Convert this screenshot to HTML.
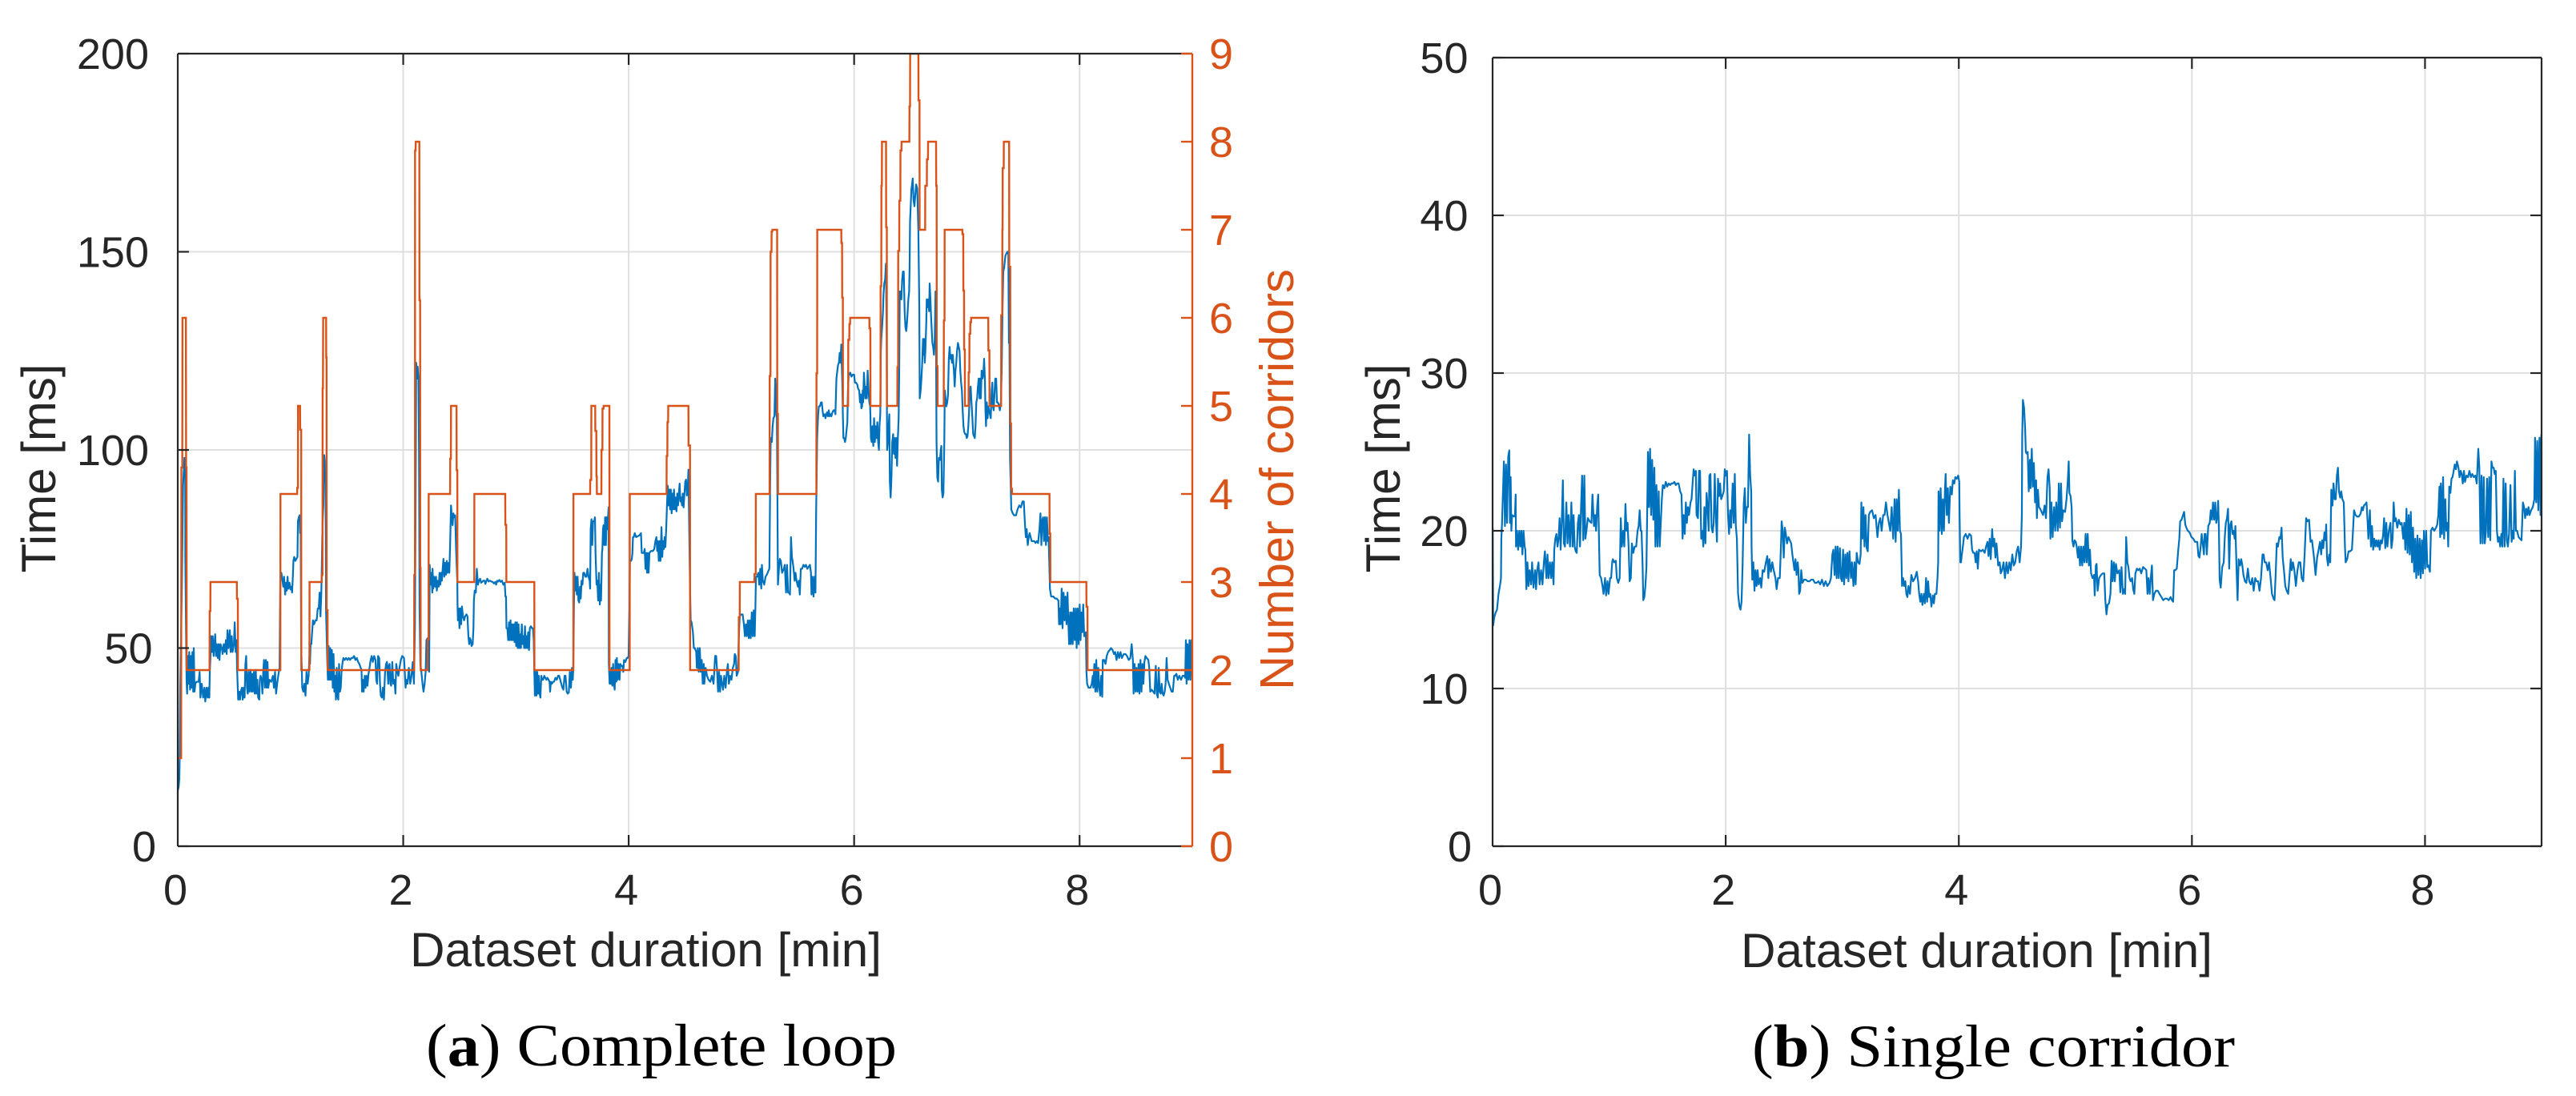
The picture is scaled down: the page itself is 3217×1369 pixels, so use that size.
<!DOCTYPE html>
<html lang="en">
<head>
<meta charset="utf-8">
<title>Processing time over dataset duration</title>
<style>
html,body{margin:0;padding:0;background:#fff;}
svg{display:block;position:absolute;left:0;top:0;}
text{font-family:"Liberation Sans",sans-serif;}
text.cap{font-family:"Liberation Serif",serif;}
</style>
</head>
<body>
<svg id="figure" xmlns="http://www.w3.org/2000/svg" width="3217" height="1369" viewBox="0 0 3217 1369"></svg>
<script>
const xTicks = [0, 2, 4, 6, 8];
const loopYTicks = [0, 50, 100, 150, 200];
const corridorTicks = [0, 1, 2, 3, 4, 5, 6, 7, 8, 9];
const singleYTicks = [0, 10, 20, 30, 40, 50];
const loopCorridors = [[0,1],[.03,1],[.032,4.3],[.04,4.3],[.042,6],[.072,6],[.074,4.3],[.078,4.3],[.079,2],[.282,2],[.283,2.67],[.289,2.67],[.29,3],[.524,3],[.525,2.81],[.533,2.81],[.534,2],[.91,2],[.911,4],[1.059,4],[1.06,4.07],[1.066,4.07],[1.067,5],[1.085,5],[1.086,4.73],[1.095,4.73],[1.096,2],[1.168,2],[1.169,3],[1.277,3],[1.278,3.08],[1.284,3.08],[1.285,5.2],[1.288,5.2],[1.29,6],[1.316,6],[1.317,5.55],[1.32,5.55],[1.321,2.68],[1.329,2.68],[1.33,2],[2.097,2],[2.098,3.08],[2.104,3.08],[2.105,7.9],[2.11,7.9],[2.111,8],[2.143,8],[2.144,6.2],[2.15,6.2],[2.151,3.16],[2.154,3.16],[2.155,2],[2.216,2],[2.217,2.35],[2.225,2.35],[2.226,4],[2.416,4],[2.417,4.4],[2.423,4.4],[2.424,5],[2.473,5],[2.474,4.27],[2.48,4.27],[2.481,3],[2.63,3],[2.631,4],[2.905,4],[2.906,3.65],[2.914,3.65],[2.915,3],[3.163,3],[3.164,2],[3.509,2],[3.51,4],[3.658,4],[3.659,4.16],[3.668,4.16],[3.669,5],[3.703,5],[3.704,4.715],[3.713,4.715],[3.714,4.2],[3.717,4.2],[3.718,4],[3.758,4],[3.759,4.5],[3.767,4.5],[3.768,4.97],[3.777,4.97],[3.778,5],[3.829,5],[3.83,2],[4.009,2],[4.01,4],[4.336,4],[4.337,4.43],[4.343,4.43],[4.344,4.815],[4.35,4.815],[4.351,5],[4.53,5],[4.531,4.55],[4.544,4.55],[4.545,2],[4.976,2],[4.977,2.6],[4.985,2.6],[4.986,3],[5.115,3],[5.116,3.09],[5.127,3.09],[5.128,4],[5.25,4],[5.251,5.34],[5.258,5.34],[5.259,6.75],[5.267,6.75],[5.268,6.98],[5.274,6.98],[5.275,7],[5.317,7],[5.318,4.91],[5.324,4.91],[5.325,4],[5.665,4],[5.666,5.37],[5.672,5.37],[5.673,7],[5.886,7],[5.887,6.85],[5.893,6.85],[5.894,6.23],[5.9,6.23],[5.901,5],[5.947,5],[5.948,5.75],[5.957,5.75],[5.958,5.93],[5.964,5.93],[5.965,6],[6.135,6],[6.136,5.88],[6.144,5.88],[6.145,5],[6.234,5],[6.235,6.36],[6.241,6.36],[6.242,7.5],[6.246,7.5],[6.247,8],[6.283,8],[6.284,7.03],[6.29,7.03],[6.291,5],[6.383,5],[6.384,5.44],[6.39,5.44],[6.391,6.76],[6.4,6.76],[6.401,7.33],[6.41,7.33],[6.411,7.9],[6.42,7.9],[6.421,8],[6.49,8],[6.491,8.4],[6.496,8.4],[6.497,9],[6.57,9],[6.571,8.47],[6.58,8.47],[6.581,7],[6.63,7],[6.631,7.5],[6.645,7.5],[6.646,7.8],[6.655,7.8],[6.656,8],[6.727,8],[6.728,7.5],[6.732,7.5],[6.733,5.45],[6.74,5.45],[6.741,5],[6.795,5],[6.796,5.97],[6.802,5.97],[6.803,7],[6.96,7],[6.961,6.95],[6.968,6.95],[6.969,6.31],[6.975,6.31],[6.976,5.64],[6.982,5.64],[6.983,5],[7.015,5],[7.016,5.38],[7.022,5.38],[7.023,5.82],[7.03,5.82],[7.031,5.95],[7.037,5.95],[7.038,6],[7.19,6],[7.191,5.63],[7.2,5.63],[7.201,5],[7.304,5],[7.305,6.03],[7.314,6.03],[7.315,7],[7.317,7],[7.318,7.7],[7.327,7.7],[7.328,8],[7.375,8],[7.376,6.58],[7.385,6.58],[7.386,4.8],[7.392,4.8],[7.393,4.06],[7.4,4.06],[7.401,4],[7.733,4],[7.734,3.55],[7.74,3.55],[7.741,3],[8.06,3],[8.061,2.72],[8.07,2.72],[8.071,2],[9,2]];
const loopTimeMs = [[0,14],[.008,15],[.014,17],[.018,24],[.022,40],[.036,65],[.047,91],[.059,98],[.066,95.6],[.067,73],[.078,42],[.083,38.5],[.09,48],[.095,41],[.102,49],[.109,39.5],[.118,48],[.123,40],[.13,49],[.137,39],[.142,50],[.149,39],[.156,41],[.166,41.5],[.185,41.5],[.194,44],[.201,37.5],[.213,41],[.225,37.5],[.237,40],[.244,36.5],[.256,40],[.265,37.5],[.273,40],[.28,37.5],[.284,44],
[.289,47],[.296,53],[.303,49],[.31,53],[.318,48],[.325,51],[.332,53.5],[.339,48],[.346,51],[.355,47.5],[.363,51],[.37,47],[.379,51],[.391,50],[.398,48.5],[.408,51],[.417,49],[.427,52],[.434,48.5],[.441,54.5],[.45,50],[.462,54.5],[.469,49],[.479,53],[.486,49],[.498,51],[.505,56.5],[.514,49],[.521,52],
[.526,45],[.536,37],[.545,39],[.552,37],[.559,39],[.569,40],[.576,37],[.585,40],[.593,37.5],[.6,46],[.607,48],[.614,40],[.621,38.5],[.628,44],[.635,39],[.645,44.5],[.652,39],[.659,43.5],[.666,39],[.675,44],[.683,38.5],[.692,44.5],[.699,38.5],[.706,42],[.713,37.5],[.723,37],[.728,42],[.735,43],[.744,42],[.751,38.5],[.758,44],[.765,47],[.773,40],[.782,47],[.789,40],[.796,46.5],[.803,40],[.813,42],[.829,41.5],[.844,43],[.853,40],[.863,44],[.872,38.5],[.882,41],[.891,43],[.903,45],[.91,68],
[.919,69],[.929,67],[.936,65.5],[.943,68],[.953,63.5],[.96,66.5],[.967,64.5],[.974,68],[.981,65],[.991,66.5],[1,64.8],[1.01,65.5],[1.014,64],[1.021,68],[1.026,72],[1.033,73],[1.043,72],[1.052,72.5],[1.062,73],[1.066,82],[1.074,83],[1.081,83.5],[1.085,79],[1.09,82],[1.095,50],[1.1,45],[1.104,40],[1.114,39],[1.123,41],[1.133,38],[1.142,44],[1.152,41],[1.161,43],[1.168,48],[1.173,46],
[1.178,51],[1.185,51],[1.192,54],[1.199,57],[1.209,56],[1.221,57],[1.232,57],[1.242,60],[1.251,60],[1.258,64],[1.266,58],[1.273,63.5],[1.277,69],[1.282,78],[1.287,83],[1.292,86],[1.299,98.7],[1.304,97],[1.308,92],[1.311,95],[1.315,60],[1.327,46],
[1.332,42],[1.339,50.5],[1.346,42],[1.353,50],[1.36,42],[1.367,49.5],[1.375,40],[1.382,48.5],[1.389,39],[1.396,43],[1.403,37],[1.41,45],[1.417,38],[1.424,37],[1.431,46],[1.439,39],[1.446,40],[1.453,44],[1.46,46],[1.469,47.5],[1.481,47],[1.493,47.5],[1.505,47],[1.517,47.5],[1.528,47],[1.54,47.5],[1.552,47.5],[1.564,48],[1.576,47],[1.588,47.5],[1.6,46.5],[1.611,46],[1.623,45],[1.63,44.5],[1.635,39],[1.642,42],[1.649,39],[1.659,43],[1.666,40],[1.675,43],[1.683,40.5],[1.692,43.5],[1.701,45],[1.711,47],[1.72,48],[1.73,46.5],[1.742,48],[1.754,47],[1.761,42],[1.768,41],[1.777,48],[1.787,47.5],[1.794,41],[1.801,38],[1.811,37.5],[1.82,40],[1.829,37],[1.839,44],[1.848,46],[1.856,46.5],[1.867,41],[1.872,45.5],[1.879,46],[1.886,41],[1.893,40.5],[1.903,46.5],[1.912,41],[1.922,42],[1.931,38.5],[1.938,46],[1.948,44],[1.957,43],[1.967,45],[1.979,47],[1.991,48],[2.007,47.5],[2.014,44],[2.021,40],[2.028,42],[2.038,41],[2.05,45],[2.062,41],[2.073,43],[2.085,46.5],[2.095,41],
[2.104,55.6],[2.11,87],[2.115,122],[2.125,118],[2.128,121],[2.135,118],[2.14,100],[2.145,60],[2.152,46],[2.161,44],[2.171,41],[2.18,39],[2.19,41],[2.199,44],[2.206,52],[2.216,52.5],[2.223,47],[2.23,44],[2.235,71],[2.242,66],[2.249,69],[2.258,64],
[2.26,70],[2.267,65],[2.274,68],[2.284,65.5],[2.291,68],[2.298,64.5],[2.307,67],[2.315,65.5],[2.322,69],[2.329,66],[2.336,69],[2.343,67],[2.35,70],[2.357,72.5],[2.364,68],[2.371,71.5],[2.379,68.5],[2.386,72],[2.393,69],[2.402,71.5],[2.409,69],[2.416,76],[2.424,86],[2.431,83],[2.438,81],[2.445,84],[2.452,83],[2.461,83.5],[2.469,75],[2.478,68],[2.48,66.7],[2.482,60.6],[2.485,57],[2.492,60],[2.499,55],[2.506,60],[2.514,56],[2.521,60.5],[2.53,58],[2.54,57],[2.549,58],[2.561,58.5],[2.57,58],[2.578,53],[2.585,51],[2.592,52.5],[2.599,52],[2.606,50.5],[2.616,51],[2.623,55],[2.627,62],[2.634,64.5],[2.644,64],[2.653,70],[2.663,66],[2.672,67],[2.682,67.5],[2.691,66.5],[2.701,66.7],[2.71,67],[2.722,67],[2.729,66.2],[2.736,66.8],[2.746,67.5],[2.758,66.8],[2.77,67],[2.781,66.8],[2.793,66.7],[2.805,66.3],[2.817,66.7],[2.824,66],[2.834,67],[2.843,66.8],[2.853,67.2],[2.864,66.7],[2.876,67],[2.888,66],[2.9,66.5],[2.907,63],[2.912,63],[2.916,55],[2.924,55],[2.931,52],[2.938,56.5],[2.945,52],[2.952,57],[2.959,52],[2.966,56],[2.973,52],[2.98,56],[2.988,51.5],[2.995,56.5],[3.002,50.5],[3.009,56.5],[3.016,50],[3.023,56],[3.03,50],[3.037,53.5],[3.044,50],[3.052,56],[3.059,51],[3.066,53],[3.073,50],[3.08,55.5],[3.087,50],[3.094,53],[3.101,50],[3.108,54],[3.116,49.5],[3.123,55],[3.132,55.5],[3.142,55],[3.151,55],[3.158,52],[3.163,44],
[3.168,38],[3.175,44],[3.182,38],[3.189,44],[3.196,38.5],[3.203,43],[3.21,38.5],[3.217,37.5],[3.225,43],[3.232,42],[3.241,42],[3.251,43],[3.26,42.5],[3.27,42],[3.279,42.5],[3.289,42],[3.298,41.5],[3.303,39],[3.31,41.5],[3.319,41],[3.329,41.5],[3.338,41.5],[3.35,42.5],[3.362,42],[3.374,43],[3.383,43],[3.393,42],[3.402,41],[3.412,40],[3.421,39.5],[3.431,43],[3.44,43],[3.45,39],[3.459,38.5],[3.469,38.8],[3.478,44],[3.488,40],[3.497,45],[3.504,42],[3.509,45],
[3.514,60],[3.519,69],[3.526,64.5],[3.533,68],[3.54,63.5],[3.547,68],[3.554,62],[3.561,61.5],[3.568,65.5],[3.575,62.5],[3.582,67],[3.59,66],[3.597,69],[3.606,69],[3.616,68],[3.625,68],[3.635,70],[3.644,68],[3.654,67],[3.658,65],[3.663,80],[3.67,82.5],[3.677,76],[3.684,82],[3.694,82],[3.701,83],[3.706,74],[3.715,66],[3.722,67],[3.729,62],[3.736,69],[3.744,61],[3.751,66],[3.755,62],[3.763,74],[3.767,75],[3.772,80],[3.777,81],[3.784,76],[3.791,83],[3.798,76],[3.805,83],[3.812,80],[3.819,84],[3.822,85.5],
[3.824,46],[3.831,41],[3.836,44],[3.841,41],[3.848,45],[3.855,40.5],[3.862,46],[3.869,41],[3.876,39.5],[3.883,47],[3.89,41.5],[3.895,47.5],[3.902,42],[3.91,46],[3.919,42],[3.926,46],[3.936,45.5],[3.945,45.5],[3.952,44],[3.959,47],[3.971,46.5],[3.983,47.5],[3.992,47.5],[3.999,48],
[4.007,60],[4.011,72],[4.021,72],[4.028,72.5],[4.033,74],[4.038,78],[4.045,78],[4.054,79],[4.066,78],[4.08,78.2],[4.097,78.5],[4.109,79],[4.116,74],[4.123,74],[4.134,74],[4.142,75],[4.149,70],[4.156,74],[4.163,69],[4.17,74],[4.177,69],[4.184,74],[4.198,74.5],[4.215,74.5],[4.227,75],[4.237,77],[4.246,78],[4.253,74.5],[4.26,77],[4.267,72],[4.275,77],[4.282,72],[4.291,80.5],[4.298,73],[4.305,77],[4.312,75],[4.319,78],[4.326,75.5],[4.334,81],[4.341,87],[4.346,91],[4.353,86],[4.36,90],[4.367,85],[4.374,90],[4.381,84],[4.388,89],[4.395,85],[4.402,90],[4.409,85],[4.417,88],[4.424,84.5],[4.431,89],[4.438,86],[4.445,89],[4.452,91.5],[4.459,87],[4.466,88],[4.473,86],[4.48,89],[4.487,85.5],[4.495,89],[4.502,92],[4.509,92.5],[4.516,88.5],[4.523,89],[4.53,95],
[4.544,66],[4.55,57],[4.558,56.5],[4.57,54],[4.578,50],[4.587,50],[4.599,49],[4.605,45],[4.613,50],[4.622,44],[4.631,50],[4.639,44],[4.648,47],[4.657,41],[4.666,46],[4.671,41],[4.683,45],[4.695,43],[4.709,42],[4.724,41.5],[4.738,43],[4.753,41],[4.767,48],[4.776,48],[4.784,44.5],[4.793,39],[4.802,44],[4.811,39],[4.819,43],[4.828,41],[4.837,39.5],[4.848,43],[4.86,40],[4.871,44],[4.88,46],[4.889,41],[4.9,43],[4.912,42],[4.924,45],[4.935,46],[4.941,48.5],[4.95,48],[4.958,43],[4.97,44],
[4.976,52],[4.985,58],[4.996,58.5],[5.011,58.5],[5.022,56],[5.031,53],[5.04,56],[5.048,53],[5.057,57],[5.066,52.5],[5.074,57],[5.083,52.5],[5.092,59],[5.101,53],[5.109,59.5],[5.118,53],[5.124,60],[5.129,68],[5.138,68],[5.15,69],[5.158,66],[5.167,70],[5.176,65],[5.182,71],[5.19,67],[5.202,66],[5.214,68],[5.225,68.5],[5.24,69.5],[5.248,70],[5.25,75],[5.255,92],[5.26,103],[5.27,102],[5.277,106],[5.284,108],[5.293,108.5],[5.3,118],[5.31,109],[5.315,108],[5.32,86],
[5.324,66],[5.333,70],[5.341,72.5],[5.35,72],[5.361,69],[5.376,70],[5.385,71],[5.396,64],[5.405,71],[5.414,64],[5.422,64],[5.431,63.5],[5.44,78],[5.448,73],[5.454,72],[5.463,70],[5.472,67],[5.48,69],[5.489,67],[5.501,65.5],[5.509,67],[5.518,63.5],[5.527,70],[5.538,70],[5.55,71],[5.562,70.5],[5.573,71],[5.585,70],[5.596,70.5],[5.608,71],[5.617,69],[5.622,63.5],[5.631,68],[5.64,63],[5.649,68],[5.657,64],[5.663,84.5],[5.667,92],
[5.672,103],[5.68,108.5],[5.687,111],[5.696,111],[5.706,112],[5.713,112],[5.72,110],[5.727,108.5],[5.739,109],[5.746,108],[5.753,109],[5.76,109.5],[5.767,108.5],[5.775,110],[5.782,108.5],[5.791,109],[5.798,108.5],[5.808,109.5],[5.817,110],[5.827,110],[5.834,109],[5.839,114],[5.843,118],[5.851,120],[5.858,121.5],[5.865,122],[5.872,124.5],[5.879,122],[5.886,126.6],[5.891,121],[5.895,117],[5.9,109],[5.905,103],[5.912,103],[5.919,102],[5.926,103],[5.933,105],[5.94,107],[5.945,115],[5.952,119],[5.959,119],[5.966,119.5],[5.976,118.5],[5.988,119],[6,119],[6.007,117],[6.016,117],[6.028,116.5],[6.035,115.5],[6.045,115],[6.052,112],[6.059,114],[6.064,110.5],[6.071,111],[6.076,115],[6.08,112],[6.087,119.5],[6.092,117],[6.099,113],[6.106,116],[6.113,113],[6.12,120],[6.128,115],[6.135,112],[6.142,111],[6.144,109],[6.149,103],[6.156,102],[6.163,106],[6.17,101],[6.177,108],[6.184,102],[6.192,106],[6.199,103],[6.206,107],[6.213,102],[6.22,100],[6.225,106],[6.232,109],[6.237,125],[6.241,128],[6.248,131],[6.256,135],[6.26,139],[6.267,142],[6.275,143],[6.282,147],[6.289,128],[6.291,110],[6.293,100],[6.3,102],[6.308,107],[6.312,109],[6.317,92],[6.324,88],[6.331,93],[6.338,102],[6.346,104],[6.353,99],[6.36,103],[6.367,98],[6.374,103],[6.381,96],[6.388,103],[6.395,108],[6.4,120],[6.405,140],[6.412,140],[6.419,138],[6.426,143],[6.433,145],[6.44,145],[6.448,135],[6.455,131],[6.462,130],[6.466,131],[6.473,134],[6.481,138],[6.488,140],[6.492,146],[6.496,157.6],[6.508,165.7],[6.52,168.5],[6.527,163],[6.535,161.5],[6.55,167],[6.56,166],[6.57,155],[6.578,136],[6.582,113],[6.59,115],[6.597,118],[6.604,122],[6.611,128],[6.615,124],[6.62,128],[6.627,122],[6.632,125],[6.64,132],[6.644,138],[6.651,136],[6.658,138],[6.665,135],[6.67,142],[6.677,138],[6.682,134],[6.689,130],[6.694,127],[6.701,126],[6.708,124],[6.715,128],[6.722,140],[6.727,125],[6.731,102],
[6.738,93],[6.745,92],[6.752,98],[6.762,97.5],[6.769,100],[6.774,101],[6.778,90],[6.785,88],[6.792,89],[6.8,102],[6.804,115],[6.811,113],[6.818,111],[6.826,112],[6.833,114],[6.84,123],[6.847,126],[6.854,123],[6.861,124],[6.868,122],[6.875,124],[6.885,120],[6.892,116],[6.899,120],[6.906,122],[6.913,125],[6.921,127],[6.928,126],[6.935,125],[6.942,120],[6.949,117],[6.956,115],[6.963,110],[6.97,106],[6.977,104.5],[6.985,104],[6.992,104],[6.999,103],[7.006,103.5],[7.013,106],[7.02,110],[7.027,115],[7.034,116],[7.041,112],[7.049,108],[7.056,104],[7.063,103.5],[7.07,103],[7.077,106],[7.084,112],[7.091,113],[7.098,116],[7.105,118],[7.113,113],[7.117,118],[7.124,113],[7.131,120],[7.139,118],[7.146,119],[7.153,123],[7.16,118],[7.165,110],[7.17,106],[7.177,112],[7.184,108],[7.191,111],[7.198,110],[7.205,109],[7.212,108],[7.22,115],[7.226,117],[7.231,111],[7.238,110],[7.245,114],[7.252,118],[7.26,118],[7.267,112],[7.274,112],[7.283,111.5],[7.293,110],[7.302,112],[7.309,120],[7.316,135],[7.323,145],[7.331,146],[7.338,148],[7.342,149],[7.35,149.5],[7.359,150],[7.368,150],[7.373,127],[7.378,127],
[7.383,98],[7.39,90],[7.394,85],[7.407,84],[7.42,83.5],[7.436,83.5],[7.45,85],[7.465,86],[7.479,85.5],[7.494,87],[7.505,87],[7.514,82],[7.523,78],[7.531,80],[7.54,76],[7.549,78],[7.557,79],[7.566,78],[7.575,77],[7.586,77],[7.598,77],[7.609,76.5],[7.621,77],[7.632,76.5],[7.644,80],[7.653,84],[7.661,76],[7.667,82],[7.676,83],[7.684,77],[7.693,83],[7.702,76],[7.71,83],[7.719,77],[7.725,78],[7.731,72],[7.737,65],[7.742,64],[7.748,63],[7.76,63],[7.768,63],[7.783,62.5],[7.797,62.5],[7.812,62],[7.818,56],[7.826,60],[7.832,56],[7.841,65],[7.849,55],[7.858,64],[7.867,57],[7.875,63],[7.884,56],[7.893,64],[7.901,56],[7.907,51],[7.916,59],[7.922,51],[7.931,59],[7.939,51],[7.948,60],[7.957,52],[7.966,60],[7.974,50],[7.983,60],[7.992,51],[8.001,61],[8.009,52],[8.015,59],[8.024,54],[8.032,61],[8.041,53],[8.05,53],[8.056,54],
[8.061,44],[8.067,41],[8.079,40],[8.096,40],[8.108,41],[8.117,43],[8.122,40],[8.131,46],[8.14,39],[8.148,47],[8.157,39],[8.166,45],[8.175,40],[8.183,38],[8.192,43],[8.201,37.7],[8.206,47],[8.218,47],[8.23,46],[8.241,48],[8.253,49],[8.267,49.5],[8.279,50],[8.293,49.5],[8.305,48.5],[8.316,49],[8.328,47],[8.34,49],[8.351,47.5],[8.363,49],[8.375,47.5],[8.392,48.5],[8.407,48.5],[8.421,48],[8.436,47],[8.45,47.5],[8.462,51],[8.473,47],[8.479,38.5],[8.488,46],[8.497,39],[8.505,45],[8.514,39],[8.523,46],[8.531,38.5],[8.54,47],[8.549,39],[8.558,46],[8.566,41],[8.575,46.5],[8.584,48],[8.595,47.5],[8.61,47],[8.618,45],[8.627,39],[8.639,39.5],[8.653,39],[8.665,38.5],[8.676,45.5],[8.685,38.5],[8.694,37.5],[8.702,45],[8.711,39],[8.72,38.5],[8.728,41],[8.737,38.5],[8.746,38],[8.755,39],[8.763,41],[8.772,47.5],[8.781,42],[8.792,41],[8.804,40],[8.816,39],[8.827,39],[8.839,43],[8.847,43],[8.859,43.5],[8.871,42],[8.885,43],[8.9,42],[8.914,43],[8.929,43],[8.937,42.5],[8.943,52],[8.949,41],[8.957,51],[8.966,42],[8.975,52],[8.983,42],[8.992,52],[9,43]];
const singleTimeMs = [[.001,20.2],[.005,14],[.014,14.5],[.026,14.8],[.038,15],[.051,16],[.063,16.5],[.072,17],[.075,19.5],[.081,20.5],[.097,24.4],[.106,20.3],[.115,24.2],[.124,20.5],[.134,24.7],[.143,25.1],[.149,20.5],[.155,23.4],[.161,20],[.167,21],[.183,20.9],[.192,21],[.198,22.3],[.201,19],[.21,20],[.219,18.8],[.229,20],[.238,19],[.247,20],[.256,18.5],[.265,20],[.275,19],[.281,18.8],[.29,16.3],[.299,18],[.308,16.5],[.318,17.5],[.33,16.6],[.339,18],[.351,16.4],[.364,17.5],[.373,16.3],[.382,17.5],[.394,18],[.403,16.6],[.416,17.5],[.428,16.6],[.44,18],[.449,18.7],[.462,17],[.471,18.5],[.48,17],[.492,18],[.502,17],[.511,18],[.523,16.6],[.529,18.8],[.538,19.5],[.548,19.8],[.557,19],[.566,19.5],[.575,20.8],[.584,18.8],[.594,20.7],[.603,23.2],[.612,19.2],[.621,19],[.633,21.8],[.643,19.2],[.652,21],[.664,19],[.676,21.8],[.686,19],[.695,21],[.704,19],[.713,18.7],[.722,18.6],[.732,20.5],[.741,21],[.75,19],[.759,21.5],[.768,23.5],[.778,19.4],[.787,23.5],[.796,19.5],[.805,20],[.817,20.8],[.833,20.6],[.848,20.5],[.857,22.3],[.87,20.3],[.879,21],[.888,20],[.897,21.5],[.906,22.3],[.913,19.4],[.919,17.2],[.931,17],[.943,16.5],[.952,16],[.965,17],[.974,15.9],[.986,16.8],[.995,16],[1.008,17],[1.017,17],[1.026,18],[1.032,18.2],[1.044,18],[1.057,18.1],[1.066,17],[1.078,16.7],[1.09,17],[1.1,20.8],[1.109,19],[1.121,20],[1.13,19],[1.14,21.7],[1.149,20],[1.158,20.5],[1.167,19],[1.176,16.8],[1.186,17],[1.195,19.2],[1.207,18.6],[1.219,19],[1.232,19],[1.244,20],[1.253,20.3],[1.262,21.3],[1.271,20],[1.278,20],[1.287,17.8],[1.293,15.6],[1.302,15.8],[1.311,16.5],[1.32,17.7],[1.327,21.5],[1.333,25],[1.342,21.5],[1.351,25.2],[1.36,21],[1.369,24.5],[1.379,20.7],[1.388,24],[1.397,19],[1.406,22.9],[1.415,19],[1.425,22.5],[1.434,19],[1.443,20.5],[1.452,22],[1.461,22.9],[1.474,22.7],[1.486,23.1],[1.498,22.8],[1.511,23],[1.523,22.9],[1.535,23],[1.547,23],[1.56,23.1],[1.572,22.9],[1.584,23],[1.596,23],[1.609,22.5],[1.621,22.3],[1.63,19.5],[1.639,21],[1.649,19.8],[1.658,21.8],[1.667,20.5],[1.676,21.5],[1.685,21],[1.698,21.8],[1.707,22],[1.716,23],[1.725,23.9],[1.734,23.5],[1.744,23.8],[1.75,21],[1.762,20.8],[1.771,23.8],[1.78,23.8],[1.79,19.5],[1.799,20],[1.808,19],[1.817,21.5],[1.826,19.2],[1.836,22.4],[1.845,21.5],[1.854,20],[1.86,23.5],[1.869,23.6],[1.879,20.2],[1.888,19.9],[1.897,20.5],[1.906,23.6],[1.915,21],[1.925,19.3],[1.934,23.3],[1.943,22.2],[1.952,23],[1.961,22],[1.971,22.2],[1.983,22.5],[1.992,23.9],[2.001,23.5],[2.011,23.8],[2.02,21],[2.029,19.8],[2.038,21.3],[2.047,20.2],[2.06,23],[2.069,20.5],[2.078,23.6],[2.087,20.3],[2.096,19.5],[2.106,16],[2.118,15.2],[2.127,15],[2.136,15.5],[2.145,17.8],[2.155,21.7],[2.164,22.7],[2.173,20.5],[2.182,21.5],[2.191,21.5],[2.201,26.1],[2.21,23.5],[2.219,22.5],[2.222,19],[2.228,16.9],[2.237,18],[2.247,16.2],[2.256,17.5],[2.265,16.5],[2.274,17.5],[2.283,16.6],[2.296,17],[2.305,16.4],[2.317,17.5],[2.33,17.4],[2.345,18],[2.357,18.4],[2.366,17],[2.375,18.2],[2.388,17.4],[2.4,18],[2.412,17.5],[2.427,17],[2.437,16.3],[2.449,17],[2.464,17],[2.474,19],[2.48,20.6],[2.489,20],[2.498,18.3],[2.507,20.2],[2.516,19.8],[2.526,19.2],[2.538,19.6],[2.55,19.4],[2.562,19.2],[2.572,18.5],[2.581,18],[2.59,17.5],[2.599,18.2],[2.608,17.2],[2.618,18],[2.624,17.5],[2.63,16],[2.639,16.2],[2.648,17.5],[2.658,16.7],[2.673,16.9],[2.688,16.9],[2.704,16.8],[2.719,16.8],[2.734,16.9],[2.75,16.9],[2.765,16.7],[2.78,16.7],[2.796,16.8],[2.811,16.6],[2.826,16.9],[2.842,16.5],[2.857,16.8],[2.872,16.5],[2.891,16.7],[2.903,17],[2.915,18.5],[2.924,18.8],[2.934,17.2],[2.943,19],[2.952,17],[2.961,19],[2.97,17],[2.98,18.9],[2.989,17],[2.998,16.8],[3.007,18.8],[3.016,16.6],[3.026,18.5],[3.035,17],[3.044,18.6],[3.053,16.8],[3.062,18.7],[3.075,17],[3.084,18],[3.096,16.5],[3.105,18],[3.115,16.6],[3.124,18.6],[3.136,18],[3.148,17.9],[3.158,18.5],[3.164,21.8],[3.173,19.5],[3.182,21.5],[3.191,19],[3.2,21],[3.21,18.9],[3.219,18.7],[3.228,21],[3.24,21.2],[3.256,21.3],[3.271,20.8],[3.286,21],[3.302,19.6],[3.314,20.5],[3.326,20.8],[3.338,20],[3.351,21],[3.363,21],[3.375,21.8],[3.388,21],[3.4,20.5],[3.412,20],[3.424,21.5],[3.437,19.5],[3.449,22],[3.458,19.3],[3.467,22],[3.476,20],[3.486,22.6],[3.495,20],[3.504,19.8],[3.513,16.5],[3.522,17],[3.532,16.5],[3.541,16.8],[3.55,16],[3.559,15.8],[3.568,16.5],[3.581,16],[3.593,17.2],[3.608,16.8],[3.624,17],[3.639,17.4],[3.651,16.8],[3.66,16],[3.67,15.5],[3.679,16],[3.688,15.3],[3.7,16],[3.709,15.4],[3.719,17],[3.728,15.5],[3.737,16.8],[3.746,15.8],[3.755,16],[3.765,15.2],[3.777,15.9],[3.786,15.4],[3.795,16],[3.808,16],[3.817,17],[3.823,18],[3.826,22.5],[3.835,20],[3.844,22.7],[3.854,19.8],[3.863,22],[3.872,20],[3.881,22.5],[3.887,23.6],[3.897,21],[3.906,22.7],[3.915,20.5],[3.927,22.8],[3.94,22.3],[3.949,23.2],[3.961,23],[3.97,23.4],[3.983,23.3],[3.995,23.5],[4.004,23.1],[4.007,20.8],[4.013,18],[4.019,18],[4.026,18.5],[4.035,19],[4.044,19.6],[4.059,19.8],[4.075,19.5],[4.09,19.8],[4.105,19.7],[4.114,18.8],[4.124,18.6],[4.136,18.6],[4.145,18],[4.154,18.7],[4.163,17.6],[4.173,18.8],[4.191,18.7],[4.206,18.8],[4.222,18.6],[4.234,19],[4.246,19.3],[4.255,18.4],[4.265,19.5],[4.274,18.2],[4.286,20.1],[4.295,19],[4.304,19.5],[4.314,18.3],[4.323,19.2],[4.338,17.8],[4.351,18],[4.36,17.3],
[4.371,17.5],[4.384,18],[4.396,17],[4.409,18],[4.421,17.3],[4.434,18],[4.446,17.5],[4.459,18.5],[4.472,17.8],[4.484,18],[4.497,18.7],[4.509,19],[4.522,18],[4.534,19],[4.541,21],[4.544,25.9],[4.55,28.3],[4.56,27.8],[4.569,26.5],[4.575,25],[4.582,24.9],[4.591,25],[4.6,22.5],[4.61,24.5],[4.616,22.7],[4.626,25.2],[4.635,22.8],[4.644,24.3],[4.654,21.8],[4.663,23.2],[4.67,20.8],[4.679,22.6],[4.688,21.5],[4.698,21.4],[4.71,21.2],[4.723,21],[4.736,21.6],[4.748,20.8],[4.761,23.4],[4.77,23.9],[4.78,22.7],[4.786,19.5],[4.795,21.8],[4.805,19.6],[4.817,21.5],[4.827,20],[4.836,21.8],[4.849,20],[4.858,23],[4.868,20.2],[4.877,23],[4.886,20.6],[4.896,21.3],[4.912,21.2],[4.924,22],[4.934,23],[4.943,24.4],[4.949,22.4],[4.959,22.2],[4.968,21.5],[4.974,19.4],[4.984,19],[4.993,19.4],[5.003,19.3],[5.012,19],[5.022,18.3],[5.031,19],[5.04,17.8],[5.05,19],[5.059,17.8],[5.069,19],[5.078,18],[5.088,19.8],[5.097,18],[5.106,19.8],[5.116,17.8],[5.125,18.8],[5.135,17.3],[5.147,17],[5.16,17.2],[5.166,15.9],[5.176,17.8],[5.182,17.9],[5.191,16.2],[5.204,17],[5.22,17.2],[5.235,17.3],[5.248,17.3],[5.257,15.6],[5.267,14.7],[5.276,15.3],[5.289,15.4],[5.301,16],[5.311,18.1],[5.32,16.8],[5.33,18],[5.339,16.8],[5.348,17.9],[5.361,17.3],[5.377,17.5],[5.386,16.1],[5.396,17.7],[5.408,16],[5.418,16.3],[5.427,16],[5.436,19.6],[5.446,18],[5.455,17.7],[5.465,17],[5.474,16.8],[5.487,17],[5.496,16.3],[5.506,16],[5.515,17.3],[5.528,17.6],[5.54,17.5],[5.553,17.6],[5.565,17.3],[5.581,17.7],[5.597,17.6],[5.609,17.5],[5.619,16],[5.628,17],[5.638,16],[5.647,17],[5.657,17.8],[5.666,15.6],[5.678,16],[5.691,16.2],[5.707,16.2],[5.722,16],[5.738,15.8],[5.754,15.6],[5.77,15.7],[5.785,15.7],[5.801,15.6],[5.817,15.8],[5.829,15.6],[5.839,15.5],[5.848,17.5],[5.858,17.5],[5.87,17.6],[5.883,18.8],[5.892,19.5],[5.899,20.6],[5.911,20.7],[5.924,21],[5.933,21.2],[5.943,20.4],[5.952,20.2],[5.965,20],[5.98,19.9],[5.996,19.6],[6.012,19.5],[6.027,19.3],[6.046,19.3],[6.056,18.4],[6.065,18.3],[6.075,19],[6.084,19.8],[6.093,19.2],[6.103,18.5],[6.109,19.8],[6.118,19.8],[6.128,18.5],[6.14,20.3],[6.153,20.5],[6.162,21.3],[6.172,20.7],[6.181,21.8],[6.191,20.7],[6.2,21.8],[6.209,20.5],[6.219,21],[6.225,21.9],[6.232,20],[6.238,16.9],[6.247,16.4],[6.26,17.7],[6.273,18],[6.282,19.6],[6.291,20.5],[6.301,20.8],[6.31,21.4],[6.32,17.6],[6.329,20.4],[6.339,20.6],[6.348,19.8],[6.357,20],[6.367,19.5],[6.373,20.3],[6.382,17.8],[6.392,15.6],[6.401,18.2],[6.414,17.8],[6.423,18.2],[6.433,17.8],[6.442,17.2],[6.455,16.8],[6.467,16.7],[6.48,17.6],[6.492,16.8],[6.505,16.6],[6.518,17],[6.53,16.2],[6.543,17],[6.555,16.8],[6.568,16.8],[6.58,16.2],[6.593,17],[6.606,18.5],[6.615,18.5],[6.624,18],[6.637,18],[6.65,17.5],[6.662,18],[6.675,17],[6.687,16],[6.7,15.7],[6.709,15.6],[6.719,17.3],[6.728,19.2],[6.738,19],[6.75,19.6],[6.76,19.5],[6.769,20.2],[6.779,18.3],[6.791,17.4],[6.801,16.5],[6.813,16.2],[6.826,16],[6.838,17.2],[6.848,18.2],[6.857,17.5],[6.867,18],[6.879,17.5],[6.892,16.5],[6.904,17.4],[6.917,18],[6.93,18],[6.942,17],[6.955,16.8],[6.967,18.5],[6.98,20.8],[6.992,20.6],[7.005,20.7],[7.018,19.3],[7.03,19.4],[7.04,18.8],[7.049,18.2],[7.061,17.2],[7.074,18.3],[7.087,18.8],[7.099,19.3],[7.109,18.5],[7.118,19.4],[7.127,18.9],[7.137,19.9],[7.146,19.4],[7.152,20.4],[7.159,18.3],[7.168,17.8],[7.178,18.5],[7.187,18],[7.196,22.6],[7.206,21.6],[7.215,23],[7.225,22],[7.234,22],[7.244,23.5],[7.253,24],[7.262,22.5],[7.272,22.1],[7.281,22.5],[7.291,22],[7.303,21.8],[7.313,19],[7.319,18],[7.332,18.2],[7.344,18.7],[7.357,18.7],[7.373,18.8],[7.382,20],[7.391,21.3],[7.404,21],[7.417,20.9],[7.432,20.9],[7.448,21.1],[7.458,21.5],[7.467,21.3],[7.476,21.6],[7.489,21.7],[7.498,21.8],[7.508,20.5],[7.514,19.5],[7.527,21.3],[7.536,19],[7.545,20.3],[7.555,18.8],[7.564,19.5],[7.574,19],[7.583,19.4],[7.593,19],[7.602,19.4],[7.611,18.8],[7.621,19.4],[7.63,19.2],[7.64,19.7],[7.649,20.8],[7.659,18.9],[7.668,20.5],[7.677,19],[7.69,20],[7.703,20.5],[7.712,18.9],[7.722,19.5],[7.731,21.8],[7.74,20.6],[7.75,20.8],[7.762,20.2],[7.775,20.7],[7.788,20.4],[7.8,20.5],[7.813,19.5],[7.822,20.5],[7.831,18.8],[7.841,21.4],[7.85,18.6],[7.86,21],[7.869,18.5],[7.878,21.2],[7.888,18],[7.897,20.2],[7.907,17.4],[7.916,19.5],[7.925,17],[7.935,19.7],[7.944,17.2],[7.954,19.5],[7.963,17],[7.973,19.4],[7.982,17.3],[7.991,20],[8.001,17.6],[8.01,20],[8.02,17.7],[8.029,17.8],[8.042,17.4],[8.051,20],[8.064,20.2],[8.079,20],[8.095,20.2],[8.105,20.4],[8.114,21],[8.124,22.8],[8.13,19.6],[8.136,23],[8.146,19.8],[8.155,23.4],[8.164,19.5],[8.174,22],[8.183,20],[8.193,20.5],[8.199,19],[8.208,22.8],[8.218,22.4],[8.227,23.3],[8.236,23.4],[8.246,23.8],[8.255,24.2],[8.265,23.9],[8.274,24.4],[8.287,24],[8.296,23.4],[8.306,23.8],[8.315,23.6],[8.324,23],[8.334,23.8],[8.343,23.1],[8.356,23.5],[8.369,23.4],[8.381,23.8],[8.394,23.4],[8.406,23.6],[8.419,23.4],[8.432,23.5],[8.444,23],[8.457,25.2],[8.466,24],[8.476,19.2],[8.485,23.5],[8.495,19.2],[8.504,23.4],[8.513,19.2],[8.523,20],[8.532,23.3],[8.542,19.6],[8.551,23.4],[8.56,19.4],[8.57,24.4],[8.579,24],[8.589,24],[8.598,23.6],[8.607,23.8],[8.617,20],[8.626,19.3],[8.636,19.6],[8.645,19],[8.655,19.8],[8.664,19],[8.673,23.3],[8.683,19],[8.692,23],[8.702,19.4],[8.711,19],[8.721,19.8],[8.733,22.9],[8.743,19.3],[8.752,20],[8.761,19.5],[8.771,23.8],[8.78,20],[8.79,20],[8.803,19.6],[8.815,19.5],[8.828,19.4],[8.84,21.8],[8.85,21.5],[8.859,20.8],[8.869,21.4],[8.878,21],[8.888,21.5],[8.897,21],[8.91,21.3],[8.925,21.5],[8.938,22],[8.944,25.9],[8.954,21.8],[8.963,25.7],[8.972,21.3],[8.982,25.9],[8.991,21],[8.998,26.1]];

const svgNS = 'http://www.w3.org/2000/svg';
const figure = document.getElementById('figure');
const TICK_DARK = '#262626';
const ORANGE = '#D95319';
const BLUE = '#0072BD';
const GRID = '#dfdfdf';
const TICK_FONT = 54;

function make(parent, tag, name, attrs, content) {
  const el = document.createElementNS(svgNS, tag);
  
  
  for (const k in attrs) el.setAttribute(k, attrs[k]);
  if (content !== undefined) el.textContent = content;
  parent.appendChild(el);
  return el;
}
function linePath(points, sx, sy) {
  return points.map((p, i) => (i ? 'L' : 'M') + sx(p[0]).toFixed(2) + ' ' + sy(p[1]).toFixed(2)).join('');
}
function drawGrid(g, box, sx, sy, yTicks) {
  const gridG = make(g, 'g', 'grid-lines', {stroke: GRID, 'stroke-width': 2});
  xTicks.slice(1).forEach(v => make(gridG, 'line', 'grid-line-x-' + v, {x1: sx(v), x2: sx(v), y1: box.top, y2: box.bottom}));
  yTicks.slice(1, -1).forEach(v => make(gridG, 'line', 'grid-line-y-' + v, {x1: box.left, x2: box.right, y1: sy(v), y2: sy(v)}));
}
function drawFrame(g, box, sx, sy, yTicks, hasRightDarkAxis, yLabelEnd) {
  const frame = make(g, 'g', 'axes-frame', {stroke: TICK_DARK, 'stroke-width': 2.2, fill: 'none'});
  make(frame, 'line', 'x-axis-bottom', {x1: box.left, x2: box.right, y1: box.bottom, y2: box.bottom});
  make(frame, 'line', 'x-axis-top', {x1: box.left, x2: box.right, y1: box.top, y2: box.top});
  make(frame, 'line', 'y-axis-left', {x1: box.left, x2: box.left, y1: box.top, y2: box.bottom});
  if (hasRightDarkAxis) make(frame, 'line', 'y-axis-right', {x1: box.right, x2: box.right, y1: box.top, y2: box.bottom});
  xTicks.forEach(v => {
    if (v > 0) {
      make(frame, 'line', 'x-tick-bottom-' + v, {x1: sx(v), x2: sx(v), y1: box.bottom, y2: box.bottom - 14});
      make(frame, 'line', 'x-tick-top-' + v, {x1: sx(v), x2: sx(v), y1: box.top, y2: box.top + 14});
    }
    make(g, 'text', 'x-tick-label-' + v, {x: sx(v) - 3, y: 1130, 'text-anchor': 'middle', 'font-size': TICK_FONT, fill: TICK_DARK}, String(v));
  });
  yTicks.forEach(v => {
    make(frame, 'line', 'y-tick-left-' + v, {x1: box.left, x2: box.left + 14, y1: sy(v), y2: sy(v)});
    if (hasRightDarkAxis) make(frame, 'line', 'y-tick-right-' + v, {x1: box.right, x2: box.right - 14, y1: sy(v), y2: sy(v)});
    const s = String(v);
    make(g, 'text', 'y-tick-label-' + v, {x: yLabelEnd - (s.length - 1) * 4.5, y: sy(v) + 19, 'text-anchor': 'end', 'font-size': TICK_FONT, fill: TICK_DARK}, s);
  });
}

/* panel (a) */
const boxA = {left: 222, right: 1489, top: 67, bottom: 1057};
const xA = v => boxA.left + (v / 9) * (boxA.right - boxA.left);
const yA = v => boxA.bottom - (v / 200) * (boxA.bottom - boxA.top);
const yC = v => boxA.bottom - (v / 9) * (boxA.bottom - boxA.top);
const panelA = make(figure, 'g', 'panel-complete-loop', {});
const clipDefs = make(figure, 'defs', 'clip-definitions', {});
const clipA = make(clipDefs, 'clipPath', 'plot-clip-a', {id: 'clipA'});
make(clipA, 'rect', 'plot-clip-a-rect', {x: boxA.left, y: boxA.top, width: boxA.right - boxA.left, height: boxA.bottom - boxA.top});
drawGrid(panelA, boxA, xA, yA, loopYTicks);
make(panelA, 'path', 'time-series-line', {d: linePath(loopTimeMs, xA, yA), fill: 'none', stroke: BLUE, 'stroke-width': 2.2, 'stroke-linejoin': 'round', 'clip-path': 'url(#clipA)'});
make(panelA, 'path', 'corridors-series-line', {d: linePath(loopCorridors, xA, yC), fill: 'none', stroke: ORANGE, 'stroke-width': 2.4, 'clip-path': 'url(#clipA)'});
drawFrame(panelA, boxA, xA, yA, loopYTicks, false, 195);
const rightAxis = make(panelA, 'g', 'corridors-axis', {stroke: ORANGE, 'stroke-width': 2.4});
make(rightAxis, 'line', 'corridors-axis-line', {x1: boxA.right, x2: boxA.right, y1: boxA.top, y2: boxA.bottom});
corridorTicks.forEach(v => {
  make(rightAxis, 'line', 'corridors-tick-' + v, {x1: boxA.right, x2: boxA.right - 14, y1: yC(v), y2: yC(v)});
  make(panelA, 'text', 'corridors-tick-label-' + v, {x: 1510, y: yC(v) + 19, 'font-size': TICK_FONT, fill: ORANGE}, String(v));
});
make(panelA, 'text', 'y-axis-title-time', {transform: 'translate(69,585) rotate(-90)', 'text-anchor': 'middle', 'font-size': 60, fill: TICK_DARK}, 'Time [ms]');
make(panelA, 'text', 'y-axis-title-corridors', {transform: 'translate(1615,599) rotate(-90)', 'text-anchor': 'middle', 'font-size': 59.5, fill: ORANGE}, 'Number of corridors');
make(panelA, 'text', 'x-axis-title', {x: 512, y: 1207, 'font-size': 60, fill: TICK_DARK, textLength: 589, lengthAdjust: 'spacingAndGlyphs'}, 'Dataset duration [min]');
const capA = make(panelA, 'text', 'caption-complete-loop', {class: 'cap', x: 532, y: 1331, 'font-size': 75, fill: '#000', textLength: 588, lengthAdjust: 'spacingAndGlyphs'});
capA.innerHTML = '(<tspan font-weight="bold">a</tspan>) Complete loop';

/* panel (b) */
const boxB = {left: 1864, right: 3174, top: 72, bottom: 1057};
const xB = v => boxB.left + (v / 9) * (boxB.right - boxB.left);
const yB = v => boxB.bottom - (v / 50) * (boxB.bottom - boxB.top);
const panelB = make(figure, 'g', 'panel-single-corridor', {});
const clipB = make(clipDefs, 'clipPath', 'plot-clip-b', {id: 'clipB'});
make(clipB, 'rect', 'plot-clip-b-rect', {x: boxB.left, y: boxB.top, width: boxB.right - boxB.left, height: boxB.bottom - boxB.top});
drawGrid(panelB, boxB, xB, yB, singleYTicks);
make(panelB, 'path', 'single-time-series-line', {d: linePath(singleTimeMs, xB, yB), fill: 'none', stroke: BLUE, 'stroke-width': 2.2, 'stroke-linejoin': 'round', 'clip-path': 'url(#clipB)'});
drawFrame(panelB, boxB, xB, yB, singleYTicks, true, 1838);
make(panelB, 'text', 'y-axis-title-time', {transform: 'translate(1748,585) rotate(-90)', 'text-anchor': 'middle', 'font-size': 60, fill: TICK_DARK}, 'Time [ms]');
make(panelB, 'text', 'x-axis-title', {x: 2174, y: 1208, 'font-size': 60, fill: TICK_DARK, textLength: 589, lengthAdjust: 'spacingAndGlyphs'}, 'Dataset duration [min]');
const capB = make(panelB, 'text', 'caption-single-corridor', {class: 'cap', x: 2188, y: 1332, 'font-size': 75, fill: '#000', textLength: 603, lengthAdjust: 'spacingAndGlyphs'});
capB.innerHTML = '(<tspan font-weight="bold">b</tspan>) Single corridor';
</script>
</body>
</html>
